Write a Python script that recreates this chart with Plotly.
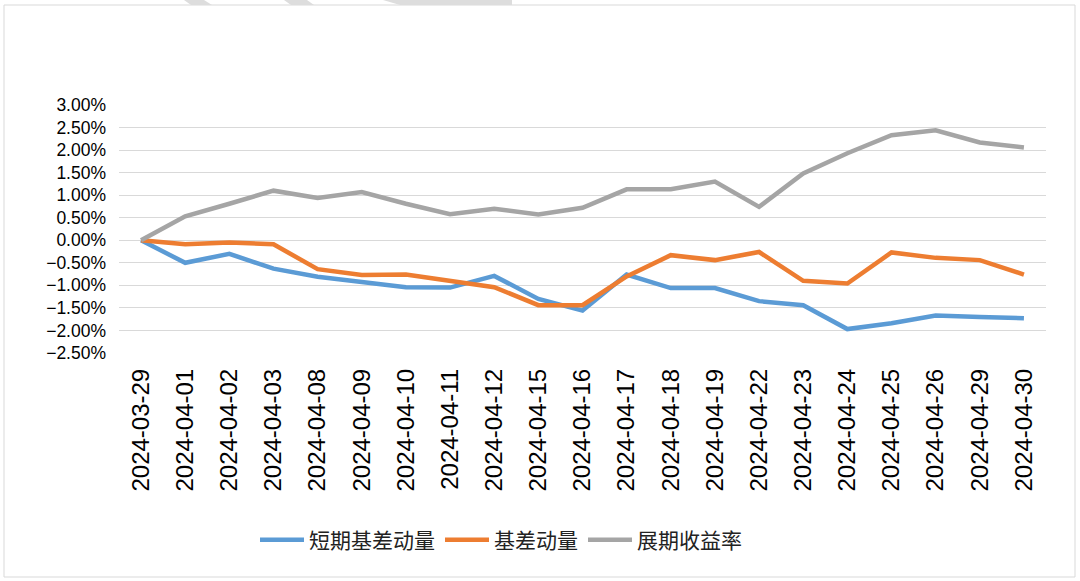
import plotly.graph_objects as go

dates = ["2024-03-29", "2024-04-01", "2024-04-02", "2024-04-03", "2024-04-08", "2024-04-09",
         "2024-04-10", "2024-04-11", "2024-04-12", "2024-04-15", "2024-04-16", "2024-04-17",
         "2024-04-18", "2024-04-19", "2024-04-22", "2024-04-23", "2024-04-24", "2024-04-25",
         "2024-04-26", "2024-04-29", "2024-04-30"]

# values in percent
short_basis_mom = [0.00, -0.50, -0.30, -0.63, -0.81, -0.93, -1.04, -1.05, -0.79, -1.30, -1.56,
                   -0.76, -1.06, -1.06, -1.35, -1.44, -1.97, -1.84, -1.67, -1.70, -1.73]
basis_mom = [0.00, -0.09, -0.05, -0.09, -0.64, -0.77, -0.76, -0.91, -1.04, -1.44, -1.44,
             -0.80, -0.33, -0.44, -0.26, -0.90, -0.96, -0.27, -0.39, -0.44, -0.76]
roll_yield = [0.00, 0.53, 0.81, 1.10, 0.94, 1.07, 0.81, 0.58, 0.70, 0.57, 0.72,
              1.13, 1.13, 1.30, 0.74, 1.48, 1.93, 2.33, 2.44, 2.17, 2.06]

series_names = ["短期基差动量", "基差动量", "展期收益率"]
series_colors = ["#5B9BD5", "#ED7D31", "#A5A5A5"]
series_values = [short_basis_mom, basis_mom, roll_yield]

y_ticks = [-2.5, -2.0, -1.5, -1.0, -0.5, 0.0, 0.5, 1.0, 1.5, 2.0, 2.5, 3.0]

fig = go.Figure()
for name, color, vals in zip(series_names, series_colors, series_values):
    fig.add_trace(go.Scatter(
        x=dates, y=[v / 100 for v in vals], name=name, mode="lines",
        line=dict(color=color, width=4.5),
    ))

L, R, T, B = 119, 34, 105, 228
W, H = 1080, 581
pw, ph = W - L - R, H - T - B

def px(xp):
    return (xp - L) / pw

def py(yp):
    return (H - B - yp) / ph

def poly(points):
    d = "M " + " L ".join(f"{px(a):.5f},{py(b):.5f}" for a, b in points) + " Z"
    return dict(type="path", xref="paper", yref="paper", path=d,
                fillcolor="#DDDDDD", line=dict(width=0), layer="below")

shapes = [
    dict(type="rect", xref="paper", yref="paper",
         x0=px(4), x1=px(1075), y0=py(577), y1=py(5),
         line=dict(color="#D9D9D9", width=1), fillcolor="rgba(0,0,0,0)", layer="below"),
    poly([(184, 0), (204, 0), (212, 5), (191, 5)]),
    poly([(284, 0), (307, 0), (314, 5), (291, 5)]),
    poly([(383, 0), (512, 0), (512, 5), (400, 5)]),
]

fig.update_layout(
    width=W, height=H,
    margin=dict(l=L, r=R, t=T, b=B),
    paper_bgcolor="white", plot_bgcolor="white",
    font=dict(family="Liberation Sans, Arial, Noto Sans CJK SC", color="#000000"),
    showlegend=True,
    legend=dict(
        orientation="h", x=px(501), xanchor="center", y=py(540), yanchor="middle",
        font=dict(size=21, family="Noto Sans CJK SC, Liberation Sans", color="#222222"),
        itemwidth=44, tracegroupgap=0, bgcolor="rgba(0,0,0,0)",
    ),
    xaxis=dict(
        type="category", categoryorder="array", categoryarray=dates,
        tickangle=-90, tickfont=dict(size=24, color="#000000"),
        showgrid=False, showline=False, ticks="", range=[-0.5, len(dates) - 0.5],
        zeroline=False, ticklabelstandoff=10,
    ),
    yaxis=dict(
        range=[-0.025, 0.030], tickvals=[v / 100 for v in y_ticks], tickformat=".2%",
        tickfont=dict(size=17.5, color="#000000"), showgrid=True, gridcolor="#D9D9D9",
        gridwidth=1, zeroline=False, showline=False, ticks="", ticklen=0,
        ticklabelstandoff=12,
    ),
    shapes=shapes,
)

fig.write_html("out.html", config={"displayModeBar": False},
               post_script="document.body.style.margin='0';")
